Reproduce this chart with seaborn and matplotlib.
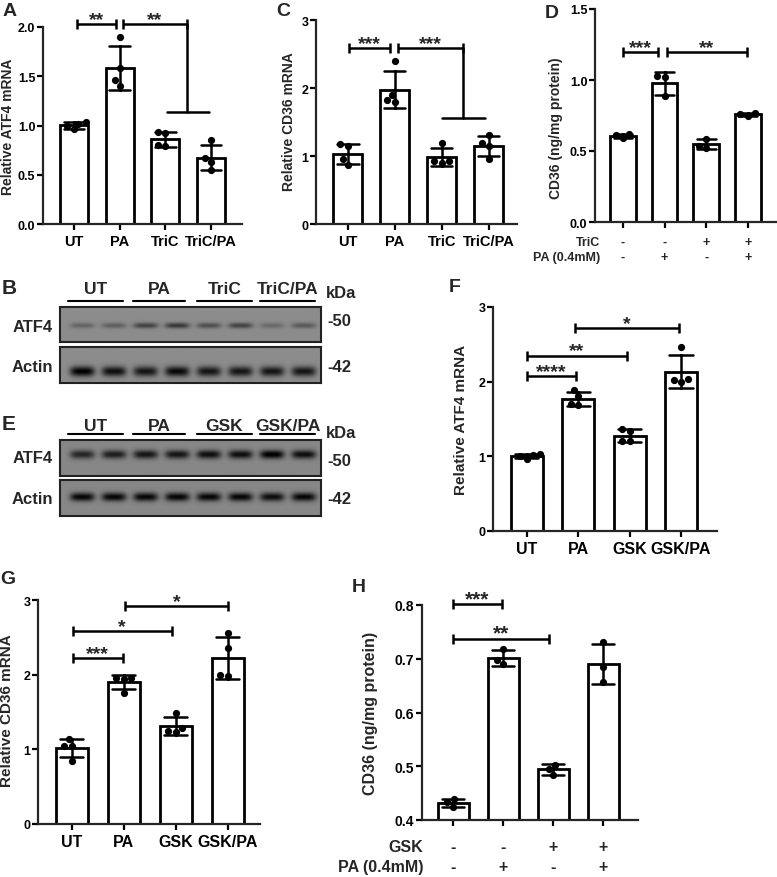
import numpy as np
import pandas as pd
import matplotlib
matplotlib.use('Agg')
import matplotlib.pyplot as plt
import matplotlib.transforms as mtransforms
from matplotlib.lines import Line2D
from matplotlib.ticker import FormatStrFormatter
import seaborn as sns

W, H = 777, 878

# groups
tric_groups = ['UT', 'PA', 'TriC', 'TriC/PA']
gsk_groups = ['UT', 'PA', 'GSK', 'GSK/PA']

# A: relative ATF4 mRNA (TriC)
a_vals = [[1.04, 1.02, 0.96, 0.99],
          [1.90, 1.58, 1.40, 1.46],
          [0.93, 0.92, 0.80, 0.79],
          [0.85, 0.67, 0.63, 0.55]]
# C: relative CD36 mRNA (TriC)
c_vals = [[1.17, 1.15, 0.95, 0.87],
          [2.39, 1.90, 1.82, 1.80],
          [1.19, 0.92, 0.93, 0.90],
          [1.31, 1.19, 1.15, 0.95]]
# D: CD36 protein (TriC)
d_vals = [[0.59, 0.62, 0.61],
          [1.025, 1.02, 0.885],
          [0.588, 0.524, 0.536],
          [0.77, 0.76, 0.748]]
d_tric = ['-', '-', '+', '+']
d_pa = ['-', '+', '-', '+']
# F: relative ATF4 mRNA (GSK)
f_vals = [[1.03, 1.02, 1.00, 0.96],
          [1.89, 1.81, 1.69, 1.70],
          [1.36, 1.34, 1.21, 1.20],
          [2.46, 2.04, 2.00, 2.02]]
# G: relative CD36 mRNA (GSK)
g_vals = [[1.14, 1.05, 1.05, 0.85],
          [1.96, 1.95, 1.94, 1.76],
          [1.49, 1.23, 1.29, 1.25],
          [2.56, 2.36, 1.98, 2.00]]
# H: CD36 protein (GSK)
h_vals = [[0.439, 0.433, 0.424],
          [0.718, 0.697, 0.690],
          [0.503, 0.495, 0.484],
          [0.731, 0.684, 0.657]]
h_gsk = ['-', '-', '+', '+']
h_pa = ['-', '+', '-', '+']

# western blot band intensities (8 lanes, 2 per group)
b_atf4 = [0.35, 0.40, 0.65, 0.75, 0.55, 0.65, 0.30, 0.45]
b_actin = [1.00, 0.90, 0.85, 0.95, 0.85, 0.85, 0.85, 0.85]
e_atf4 = [0.65, 0.70, 0.75, 0.75, 0.80, 0.80, 0.90, 0.80]
e_actin = [0.85, 0.85, 0.85, 0.85, 0.85, 0.85, 0.80, 0.85]

sns.set_style('ticks')
plt.rcParams['font.family'] = ['Liberation Sans', 'DejaVu Sans']
plt.rcParams['font.weight'] = 'bold'

fig = plt.figure(figsize=(7.77, 8.78), dpi=100)


def px_axes(x0, y0, x1, y1):
    return fig.add_axes([x0 / W, 1 - y1 / H, (x1 - x0) / W, (y1 - y0) / H])


def ftext(x, y, s, **kw):
    kw.setdefault('fontweight', 'bold')
    fig.text(x / W, 1 - y / H, s, **kw)


def bar_panel(ax, groups, vals, xlim, ylim, yticks, fmt, ysize=9, xsize=10.5, xlabels=True):
    df = pd.DataFrame({'group': np.repeat(groups, [len(v) for v in vals]),
                       'value': np.concatenate(vals)})
    sns.barplot(data=df, x='group', y='value', order=groups, color='white', saturation=1,
                edgecolor='black', linewidth=2, width=0.62, errorbar='sd', capsize=0.45,
                err_kws={'color': 'black', 'linewidth': 1.8}, ax=ax)
    sns.swarmplot(data=df, x='group', y='value', order=groups, color='black', size=5.2, ax=ax)
    ax.set_xlim(*xlim)
    ax.set_ylim(*ylim)
    ax.set_yticks(yticks)
    ax.yaxis.set_major_formatter(FormatStrFormatter(fmt))
    ax.set_xlabel('')
    ax.set_ylabel('')
    sns.despine(ax=ax)
    for s in ['left', 'bottom']:
        ax.spines[s].set_linewidth(1.6)
    ax.tick_params(width=1.6, length=4, colors='black')
    ax.tick_params(axis='y', pad=1.5)
    for t in ax.get_yticklabels():
        t.set_fontsize(ysize)
        t.set_fontweight('bold')
    if xlabels:
        for t in ax.get_xticklabels():
            t.set_fontsize(xsize)
            t.set_fontweight('bold')
    else:
        ax.set_xticks(range(len(groups)))
        ax.set_xticklabels([''] * len(groups))
    return ax


def bracket(ax, x1, x2, y, h, text, fs=14, off=0):
    kw = dict(color='black', lw=1.8, clip_on=False, solid_capstyle='butt')
    ax.plot([x1, x2], [y, y], **kw)
    ax.plot([x1, x1], [y - h, y + h], **kw)
    ax.plot([x2, x2], [y - h, y + h], **kw)
    ax.annotate(text, ((x1 + x2) / 2, y), xytext=(0, off), textcoords='offset points',
                ha='center', va='baseline', fontsize=fs, fontweight='bold',
                annotation_clip=False)


def sign_rows(ax, top, bottom, y1, y2, fs):
    tr = mtransforms.blended_transform_factory(ax.transData, fig.transFigure)
    for i, (a, b) in enumerate(zip(top, bottom)):
        ax.text(i, 1 - y1 / H, a, transform=tr, ha='center', va='center', fontsize=fs, fontweight='bold')
        ax.text(i, 1 - y2 / H, b, transform=tr, ha='center', va='center', fontsize=fs, fontweight='bold')


# ---- A ----
ax = px_axes(43, 28, 242, 225)
bar_panel(ax, tric_groups, a_vals, (-0.68, 3.68), (0, 2.0), [0, 0.5, 1.0, 1.5, 2.0], '%.1f')
bracket(ax, 0.07, 0.92, 2.03, 0.05, '**')
bracket(ax, 1.07, 2.47, 2.03, 0.05, '**')
ax.plot([2.47, 2.47], [2.03, 1.14], color='black', lw=1.8, clip_on=False)
ax.plot([2.03, 2.95], [1.14, 1.14], color='black', lw=1.8, clip_on=False)
ftext(8, 127, 'Relative ATF4 mRNA', rotation=90, ha='center', va='center', fontsize=10)
ftext(3, 12, 'A', fontsize=14, ha='left', va='center')

# ---- C ----
ax = px_axes(316, 21, 517, 225)
bar_panel(ax, tric_groups, c_vals, (-0.68, 3.6), (0, 3), [0, 1, 2, 3], '%d')
bracket(ax, 0.02, 0.9, 2.59, 0.075, '***')
bracket(ax, 1.06, 2.45, 2.59, 0.075, '***')
ax.plot([2.45, 2.45], [2.59, 1.56], color='black', lw=1.8, clip_on=False)
ax.plot([2.0, 2.91], [1.56, 1.56], color='black', lw=1.8, clip_on=False)
ftext(289, 122, 'Relative CD36 mRNA', rotation=90, ha='center', va='center', fontsize=10)
ftext(276, 11, 'C', fontsize=14, ha='left', va='center')

# ---- D ----
ax = px_axes(595, 10, 777, 223)
bar_panel(ax, tric_groups, d_vals, (-0.67, 3.7), (0, 1.5), [0, 0.5, 1.0, 1.5], '%.1f', xlabels=False)
bracket(ax, 0.0, 0.84, 1.2, 0.035, '***')
bracket(ax, 1.05, 2.98, 1.2, 0.035, '**')
sign_rows(ax, d_tric, d_pa, 243, 258, 9)
ftext(600, 243, 'TriC', ha='right', va='center', fontsize=9)
ftext(600, 258, 'PA (0.4mM)', ha='right', va='center', fontsize=9)
ftext(556, 128, 'CD36 (ng/mg protein)', rotation=90, ha='center', va='center', fontsize=10)
ftext(545, 13, 'D', fontsize=14, ha='left', va='center')

# ---- blots ----
def blot(x0, y0, x1, y1, intens, band_y, band_h, bg, depth):
    ax = px_axes(x0, y0, x1, y1)
    yy, xx = np.mgrid[0:1:80j, 0:1:520j]
    img = np.full(xx.shape, bg)
    for i, v in enumerate(intens):
        cx = 0.085 + 0.1214 * i
        img = img - depth * v * np.exp(-((xx - cx) / 0.047) ** 4) * np.exp(-((yy - band_y) / band_h) ** 2)
    ax.imshow(np.clip(img, 0, 1), cmap='gray', vmin=0, vmax=1, extent=[0, 1, 1, 0],
              aspect='auto', interpolation='bilinear')
    ax.set_xticks([])
    ax.set_yticks([])
    for s in ax.spines.values():
        s.set_linewidth(1.5)
        s.set_color('#222222')


def lane_header(labels, y_text, y_line, kda_y):
    segs = [(68, 123), (133, 185), (197, 252), (260, 315)]
    for lab, (s, e) in zip(labels, segs):
        ftext((s + e) / 2, y_text, lab, ha='center', va='center', fontsize=12.5)
        fig.add_artist(Line2D([s / W, e / W], [1 - y_line / H] * 2, color='black', lw=1.5))
    ftext(341, kda_y, 'kDa', ha='center', va='center', fontsize=12)


# B
lane_header(tric_groups, 290, 302, 293)
blot(60, 308, 321, 343, b_atf4, 0.53, 0.08, 0.55, 0.45)
blot(60, 348, 321, 384, b_actin, 0.68, 0.14, 0.55, 0.55)
ftext(53, 327, 'ATF4', ha='right', va='center', fontsize=12)
ftext(53, 368, 'Actin', ha='right', va='center', fontsize=12)
ftext(327, 322, '-50', ha='left', va='center', fontsize=12)
ftext(327, 368, '-42', ha='left', va='center', fontsize=12)
ftext(2, 288, 'B', fontsize=15, ha='left', va='center')

# E
lane_header(gsk_groups, 427, 435, 434)
blot(60, 441, 321, 477, e_atf4, 0.40, 0.12, 0.53, 0.6)
blot(60, 481, 321, 517, e_actin, 0.47, 0.12, 0.53, 0.6)
ftext(53, 459, 'ATF4', ha='right', va='center', fontsize=12)
ftext(53, 500, 'Actin', ha='right', va='center', fontsize=12)
ftext(327, 462, '-50', ha='left', va='center', fontsize=12)
ftext(327, 500, '-42', ha='left', va='center', fontsize=12)
ftext(2, 425, 'E', fontsize=15, ha='left', va='center')

# ---- F ----
ax = px_axes(493, 308, 717, 532)
bar_panel(ax, gsk_groups, f_vals, (-0.66, 3.7), (0, 3), [0, 1, 2, 3], '%d', xsize=11.5)
bracket(ax, 0.0, 0.96, 2.08, 0.067, '****')
bracket(ax, 0.0, 1.95, 2.35, 0.067, '**')
bracket(ax, 0.94, 2.96, 2.72, 0.067, '*')
ftext(461, 420, 'Relative ATF4 mRNA', rotation=90, ha='center', va='center', fontsize=11)
ftext(449, 288, 'F', fontsize=14, ha='left', va='center')

# ---- G ----
ax = px_axes(38, 601, 260, 825)
bar_panel(ax, gsk_groups, g_vals, (-0.65, 3.62), (0, 3), [0, 1, 2, 3], '%d', xsize=11.5)
bracket(ax, 0.02, 0.98, 2.22, 0.067, '***')
bracket(ax, 0.02, 1.92, 2.58, 0.067, '*')
bracket(ax, 1.02, 3.0, 2.92, 0.067, '*')
ftext(7, 711, 'Relative CD36 mRNA', rotation=90, ha='center', va='center', fontsize=11)
ftext(0, 580, 'G', fontsize=14, ha='left', va='center')

# ---- H ----
ax = px_axes(422, 606, 638, 821)
bar_panel(ax, gsk_groups, h_vals, (-0.62, 3.7), (0.4, 0.8), [0.4, 0.5, 0.6, 0.7, 0.8], '%.1f',
          ysize=10, xlabels=False)
bracket(ax, 0.0, 0.98, 0.802, 0.0093, '***', fs=15)
bracket(ax, 0.0, 1.92, 0.737, 0.0093, '**', fs=15)
sign_rows(ax, h_gsk, h_pa, 848, 868, 11.5)
ftext(423, 848, 'GSK', ha='right', va='center', fontsize=11.5)
ftext(423, 868, 'PA (0.4mM)', ha='right', va='center', fontsize=11.5)
ftext(371, 713, 'CD36 (ng/mg protein)', rotation=90, ha='center', va='center', fontsize=11.5)
ftext(352, 587, 'H', fontsize=14, ha='left', va='center')

fig.savefig('out.png', dpi=100)
